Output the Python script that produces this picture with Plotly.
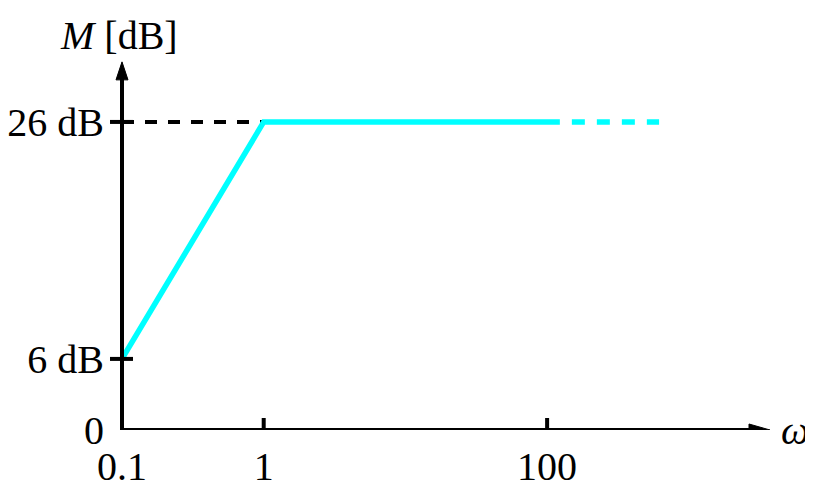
import plotly.graph_objects as go

# ---- data ----
omega_asym = [0.1, 1, 123]          # solid asymptote break points
mag_asym = [6, 26, 26]               # dB
omega_ext = [123, 617]               # dashed continuation
mag_ext = [26, 26]
omega_ref = [0.1, 1]                 # black dashed reference at 26 dB
mag_ref = [26, 26]

x_tick_vals = [0.1, 1, 100]
x_tick_text = ["0.1", "1", "100"]
y_tick_vals = [0, 6, 26]
y_tick_text = ["0", "6 dB", "26 dB"]
x_marks = [1, 100]                   # crossing tick marks on ω axis
y_marks = [6, 26]                    # crossing tick marks on M axis

y_axis_top = 31.07                   # arrow tip of M axis (dB)
x_axis_end = 3741                    # arrow tip of ω axis

FONT = "Liberation Serif"
FS = 40
CYAN = "#00FFFF"

fig = go.Figure()
fig.add_trace(go.Scatter(x=omega_ref, y=mag_ref, mode="lines",
                         line=dict(color="black", width=4, dash="12px,11px"),
                         hoverinfo="skip", cliponaxis=False))
fig.add_trace(go.Scatter(x=omega_asym, y=mag_asym, mode="lines",
                         line=dict(color=CYAN, width=5.5),
                         hoverinfo="skip", cliponaxis=False))
fig.add_trace(go.Scatter(x=omega_ext, y=mag_ext, mode="lines",
                         line=dict(color=CYAN, width=5.5, dash="0px,12px,13px,0px"),
                         hoverinfo="skip", cliponaxis=False))

shapes = []
# axes lines
shapes.append(dict(type="line", xref="paper", yref="y", x0=0, x1=0, y0=0, y1=y_axis_top - 1.0,
                   line=dict(color="black", width=4)))
shapes.append(dict(type="line", xref="x", yref="y", x0=0.1, x1=x_axis_end * 0.8, y0=0, y1=0,
                   line=dict(color="black", width=4)))
# arrowheads (pixel sized)
shapes.append(dict(type="path", xref="paper", yref="y", xsizemode="pixel", ysizemode="pixel",
                   xanchor=0, yanchor=y_axis_top, path="M -6,-18 L 6,-18 L 0,0 Z",
                   fillcolor="black", line=dict(color="black", width=1)))
shapes.append(dict(type="path", xref="x", yref="y", xsizemode="pixel", ysizemode="pixel",
                   xanchor=x_axis_end, yanchor=0, path="M -21,-6 L -21,6 L 0,0 Z",
                   fillcolor="black", line=dict(color="black", width=1)))
# crossing tick marks
for v in y_marks:
    shapes.append(dict(type="line", xref="paper", yref="y", xsizemode="pixel", xanchor=0,
                       x0=-12, x1=11, y0=v, y1=v, line=dict(color="black", width=4)))
for v in x_marks:
    shapes.append(dict(type="line", xref="x", yref="y", ysizemode="pixel", yanchor=0,
                       x0=v, x1=v, y0=-12, y1=12, line=dict(color="black", width=4)))

annotations = [
    dict(xref="paper", yref="paper", x=-0.0045, y=1.008, text="<i>M</i> [dB]",
         showarrow=False, xanchor="center", yanchor="middle",
         font=dict(family=FONT, size=FS, color="black")),
    dict(xref="paper", yref="paper", x=1.0105, y=0, text="<i>ω</i>",
         showarrow=False, xanchor="center", yanchor="middle",
         font=dict(family=FONT, size=FS, color="black")),
]

fig.update_layout(
    width=805, height=480, autosize=False,
    margin=dict(l=114, r=25, t=31, b=58),
    paper_bgcolor="white", plot_bgcolor="white",
    showlegend=False,
    shapes=shapes, annotations=annotations,
    xaxis=dict(type="log", range=[-1, 3.7], showgrid=False, zeroline=False, showline=False,
               automargin=False,
               tickvals=x_tick_vals, ticktext=x_tick_text, ticks="outside", ticklen=1,
               tickcolor="rgba(0,0,0,0)", tickfont=dict(family=FONT, size=FS, color="black")),
    yaxis=dict(range=[0, 33], showgrid=False, zeroline=False, showline=False,
               automargin=False,
               tickvals=y_tick_vals, ticktext=y_tick_text, ticks="outside", ticklen=9,
               tickcolor="rgba(0,0,0,0)", tickfont=dict(family=FONT, size=FS, color="black")),
)

fig.write_html("out.html")
